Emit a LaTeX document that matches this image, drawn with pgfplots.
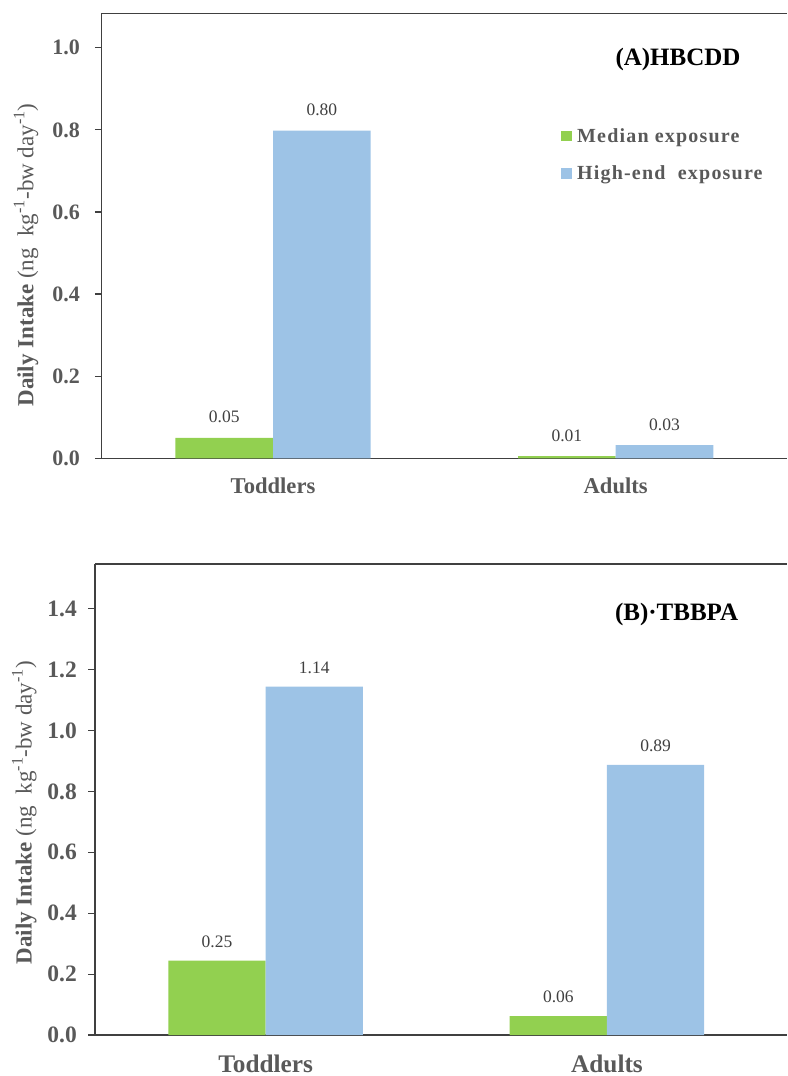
\documentclass[border=0pt]{standalone}
\usepackage{fontspec}
\setmainfont{Liberation Serif}
\usepackage{pgfplots}
\pgfplotsset{compat=1.18}
\definecolor{gbar}{RGB}{146,208,80}
\definecolor{bbar}{RGB}{157,195,230}
\definecolor{txt}{RGB}{89,89,89}
\definecolor{axc}{RGB}{64,64,64}
\pgfplotsset{
 sqlegend/.style={legend image code/.code={\fill[##1,draw=none] (0pt,-5.35pt) rectangle (10.7pt,5.35pt);}},
 panel/.style={
  scale only axis, clip=false,
  axis x line*=bottom, axis y line*=left,
  axis line style={axc, line width=1.5pt, -},
  xmin=-0.5, xtick={0,1}, xticklabels={Toddlers,Adults},
  x tick style={draw=none},
  ymin=0, tick align=outside, major tick length=6.7pt,
  y tick style={axc, line width=1.2pt},
  /pgf/number format/assume math mode=true,
  yticklabel style={/pgf/number format/fixed, /pgf/number format/fixed zerofill,
    /pgf/number format/precision=1, text=txt, anchor=east, inner sep=0pt,
    font=\fontsize{22}{26}\selectfont\bfseries},
  xticklabel style={text=txt, anchor=base, inner sep=0pt},
  ybar, bar width=0.285,
  nodes near coords, point meta=explicit symbolic,
  every node near coord/.append style={anchor=center, inner sep=0pt,
    font=\fontsize{17.5}{20}\selectfont, text=axc},
  ylabel={{\bfseries Daily Intake} (ng\ \ kg\textsuperscript{-1}-bw day\textsuperscript{-1})},
  ylabel style={anchor=base, text=txt, font=\fontsize{23}{27}\selectfont, inner sep=0pt},
 }
}
\begin{document}
\begin{tikzpicture}
% ---------- (A) HBCDD ----------
\begin{axis}[panel, at={(101.7pt,617.7pt)}, anchor=south west,
  width=685.3pt, height=445pt, xmax=1.5, ymax=1.084,
  ytick={0,0.2,0.4,0.6,0.8,1.0},
  yticklabel style={xshift=-15pt},
  xticklabel style={yshift=-28.4pt, font=\fontsize{22.6}{27}\selectfont\bfseries},
  every node near coord/.append style={yshift=20.5pt},
  ylabel style={at={(rel axis cs:0,0.457)}, yshift=68.4pt},
  legend cell align=left,
  legend style={draw=none, fill=none, inner sep=0pt, at={(axis cs:0.841,0.804)},
    anchor=north west, row sep=22pt, text=txt,
    font=\fontsize{20}{24}\selectfont\bfseries\addfontfeature{LetterSpace=6},
    nodes={inner sep=0pt},
    /tikz/every odd column/.append style={column sep=5pt}},
]
\addplot[fill=gbar, draw=none, bar shift=-0.1425, sqlegend]
  coordinates {(0,0.050) [0.05] (1,0.005) [0.01]};
\addplot[fill=bbar, draw=none, bar shift=0.1425, sqlegend]
  coordinates {(0,0.798) [0.80] (1,0.032) [0.03]};
\legend{Median exposure, High-end\ \ exposure}
\draw[axc, line width=1.5pt] (rel axis cs:0,1) -- (rel axis cs:1,1);
\node[anchor=base, font=\fontsize{25}{30}\selectfont\bfseries] at (axis cs:1.182,0.956) {(A)HBCDD};
\end{axis}
% ---------- (B) TBBPA ----------
\begin{axis}[panel, at={(95pt,41pt)}, anchor=south west,
  width=692pt, height=471pt, xmax=1.5275, ymax=1.547,
  ytick={0,0.2,0.4,0.6,0.8,1.0,1.2,1.4},
  yticklabel style={xshift=-11.3pt, font=\fontsize{23.5}{28}\selectfont\bfseries},
  xticklabel style={yshift=-30.7pt, font=\fontsize{25.3}{30}\selectfont\bfseries},
  every node near coord/.append style={yshift=19.3pt},
  ylabel style={at={(rel axis cs:0,0.472)}, yshift=63.3pt},
]
\addplot[fill=gbar, draw=none, bar shift=-0.1425]
  coordinates {(0,0.244) [0.25] (1,0.062) [0.06]};
\addplot[fill=bbar, draw=none, bar shift=0.1425]
  coordinates {(0,1.144) [1.14] (1,0.887) [0.89]};
\draw[axc, line width=1.5pt] (rel axis cs:0,1) -- (rel axis cs:1,1);
\node[anchor=base, font=\fontsize{25}{30}\selectfont\bfseries] at (axis cs:1.204,1.36) {(B)\textperiodcentered TBBPA};
\end{axis}
\pgfresetboundingbox
\useasboundingbox (0,0) rectangle (787pt,1076pt);
\end{tikzpicture}
\end{document}
